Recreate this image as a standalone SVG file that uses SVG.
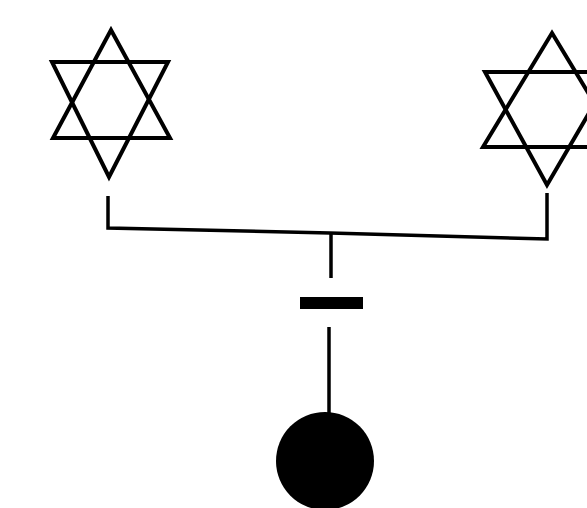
<svg xmlns="http://www.w3.org/2000/svg" width="587" height="508" viewBox="0 0 587 508">
<style>
.star{fill:none;stroke:#000;stroke-width:4;stroke-linejoin:miter}
.wire{fill:none;stroke:#000;stroke-width:3.5}
</style>
<rect width="587" height="508" fill="#fff"/>
<g id="star-left">
<polygon class="star" points="111,30 170,138 53,138"/>
<polygon class="star" points="52,62 168,62 109,177"/>
</g>
<g id="star-right">
<polygon class="star" points="552,33 621,147 483,147"/>
<polygon class="star" points="485,72 613,72 547,185"/>
</g>
<g id="connectors">
<path class="wire" d="M108,196 L108,228 L330,233 L547,239 L547,193"/>
<path class="wire" d="M331,233 L331,278"/>
<path class="wire" d="M329,327 L329,414"/>
</g>
<g id="bar">
<rect x="300" y="297" width="63" height="12" fill="#000"/>
</g>
<g id="ball">
<circle cx="325" cy="461" r="49" fill="#000"/>
</g>
</svg>
